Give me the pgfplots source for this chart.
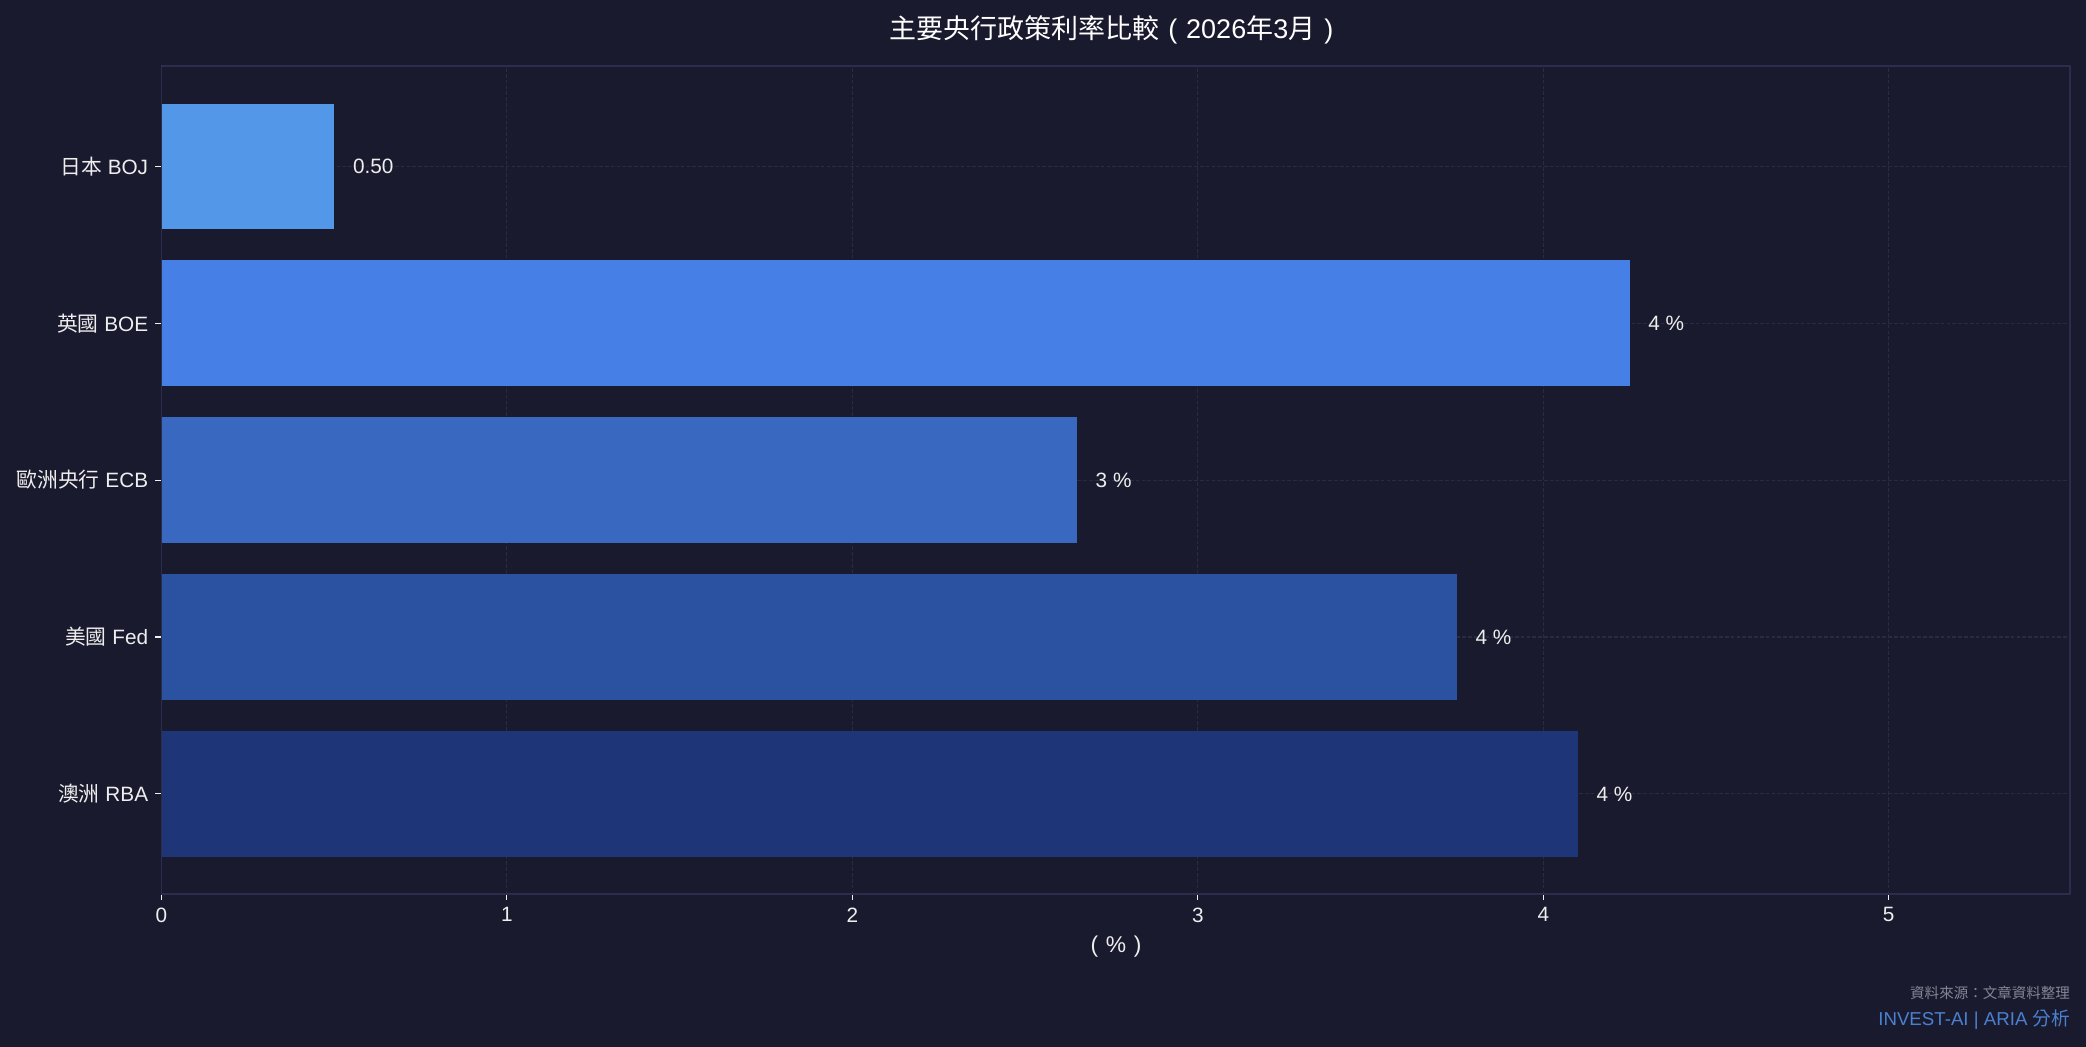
\documentclass[border=0pt]{standalone}
\usepackage{fontspec}
\setmainfont{Liberation Sans}
\newfontfamily\cjk{Noto Sans CJK TC}
\usepackage{pgfplots}
\pgfplotsset{compat=1.18}
\definecolor{bg}{HTML}{1A1A2E}
\definecolor{framec}{HTML}{2C2C4C}
\definecolor{gridc}{HTML}{2A2A40}
\definecolor{labelc}{HTML}{EEEEEE}
\definecolor{cBOJ}{HTML}{5297E8}
\definecolor{cBOE}{HTML}{4680E6}
\definecolor{cECB}{HTML}{3868C0}
\definecolor{cFed}{HTML}{2B52A0}
\definecolor{cRBA}{HTML}{1E3678}
\definecolor{srcc}{HTML}{858595}
\definecolor{brandc}{HTML}{4A80D0}
\begin{document}
\begin{tikzpicture}
\path[use as bounding box, fill=bg] (0,0) rectangle (1001.28bp,502.56bp);
\begin{axis}[
  at={(77.52bp,73.3bp)}, anchor=south west,
  scale only axis, width=916.1bp, height=397.6bp,
  xbar, bar width=0.8,
  xmin=0, xmax=5.525, ymin=-0.64, ymax=4.64,
  xtick={0,1,2,3,4,5},
  ytick={0,1,2,3,4},
  yticklabels={{{\cjk 澳洲} RBA},{{\cjk 美國} Fed},{{\cjk 歐洲央行} ECB},{{\cjk 英國} BOE},{{\cjk 日本} BOJ}},
  tick pos=left, tick align=outside, major tick length=2.9bp,
  major tick style={line width=0.5bp, color=labelc},
  xmajorgrids, ymajorgrids,
  major grid style={line width=0.5bp, color=gridc, dash pattern=on 1.8bp off 1bp},
  axis line style={draw=framec, line width=0.8bp},
  ticklabel style={font=\fontsize{10}{12}\selectfont, color=labelc},
  /pgf/number format/assume math mode=true,
  point meta=explicit symbolic,
  nodes near coords={\pgfplotspointmeta},
  nodes near coords align=horizontal,
  every node near coord/.append style={font=\fontsize{10}{12}\selectfont, color=labelc, anchor=west, xshift=5.5bp},
  clip=false,
]
\addplot[fill=cRBA, draw=none, bar shift=0pt] coordinates {(4.10,0) [4 \%]};
\addplot[fill=cFed, draw=none, bar shift=0pt] coordinates {(3.75,1) [4 \%]};
\addplot[fill=cECB, draw=none, bar shift=0pt] coordinates {(2.65,2) [3 \%]};
\addplot[fill=cBOE, draw=none, bar shift=0pt] coordinates {(4.25,3) [4 \%]};
\addplot[fill=cBOJ, draw=none, bar shift=0pt] coordinates {(0.50,4) [0.50]};
\end{axis}
\node[anchor=base, text=white, font=\fontsize{13}{15}\selectfont] at (535.6bp,484.3bp) {{\cjk 主要央行政策利率比較}\makebox[1em][c]{(}2026{\cjk 年}3{\cjk 月}\makebox[1em][c]{)}};
\node[text=labelc, font=\fontsize{11}{13}\selectfont] at (535.7bp,48bp) {\makebox[1em][c]{(}\%\makebox[1em][c]{)}};
\node[anchor=east, inner sep=0pt, text=srcc, font=\fontsize{7}{8}\selectfont] at (993.8bp,26.2bp) {\cjk 資料來源：文章資料整理};
\node[anchor=east, inner sep=0pt, text=brandc, font=\fontsize{9}{11}\selectfont] at (993.8bp,13bp) {INVEST-AI | ARIA {\cjk 分析}};
\end{tikzpicture}
\end{document}
